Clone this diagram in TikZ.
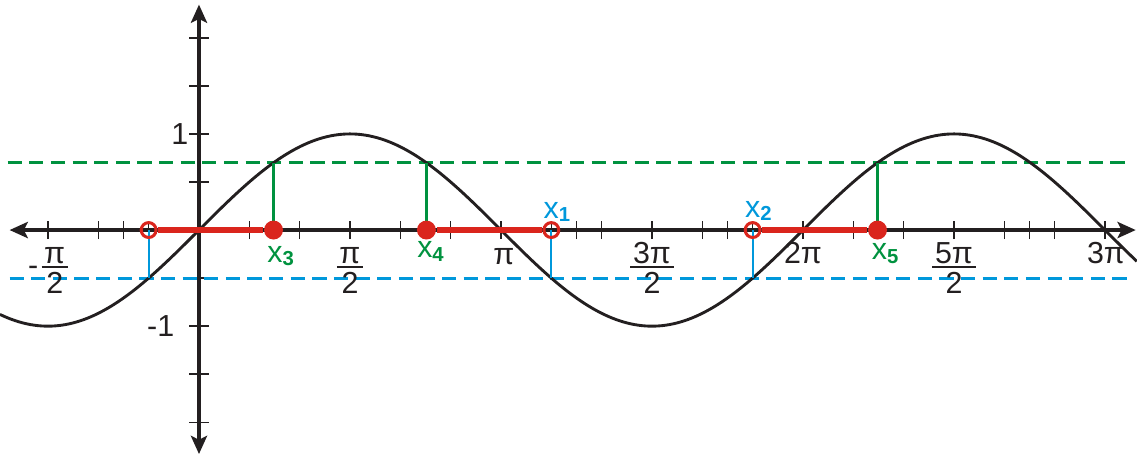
\documentclass[tikz,border=0pt]{standalone}
\usepackage{fontspec}
\setmainfont{Liberation Sans}
\usetikzlibrary{arrows.meta}
\definecolor{cred}{RGB}{218,37,29}
\definecolor{cgreen}{RGB}{0,146,63}
\definecolor{cblue}{RGB}{0,152,219}
\definecolor{cblack}{RGB}{35,31,32}
\newcommand{\piover}[1]{\vbox{\offinterlineskip\halign{\hfil\kern0.8pt##\kern0.8pt\hfil\cr #1\cr\noalign{\kern0.6pt\hrule height 0.6pt\kern1.1pt}\vrule height 6.45pt width 0pt 2\cr}}}
\tikzset{
  axisline/.style={line width=1pt, draw=cblack, {Stealth[length=5.4pt,width=4.8pt,inset=1.2pt]}-{Stealth[length=5.4pt,width=4.8pt,inset=1.2pt]}},
  tickline/.style={line width=0.45pt, draw=cblack},
  curveline/.style={line width=0.85pt, draw=cblack},
  gdash/.style={line width=0.95pt, draw=cgreen, dash pattern=on 4.2pt off 2.2pt},
  bdash/.style={line width=0.95pt, draw=cblue, dash pattern=on 4.2pt off 2.2pt},
  gvert/.style={line width=0.65pt, draw=cgreen},
  bvert/.style={line width=0.65pt, draw=cblue},
  redseg/.style={line width=1.6pt, draw=cred},
  fdot/.style={circle, fill=cred, inner sep=0pt, minimum size=5.6pt},
  odot/.style={circle, draw=cred, line width=0.9pt, inner sep=0pt, minimum size=4.4pt},
  lbl/.style={font=\fontsize{9}{10}\selectfont, inner sep=0pt, text=cblack},
  glbl/.style={font=\fontsize{9}{10}\selectfont, inner sep=0pt, text=cgreen, anchor=base},
  blbl/.style={font=\fontsize{9}{10}\selectfont, inner sep=0pt, text=cblue, anchor=base},
}
\begin{document}
\begin{tikzpicture}
\useasboundingbox (-2.070,-2.351) rectangle (9.758,2.393);
% key values
\pgfmathsetmacro{\aa}{asin(0.7)*pi/180}
% axes
\coordinate (xl) at (-1.97,0);
\coordinate (xr) at (9.745,0);
\coordinate (yb) at (0,-2.33);
\coordinate (yt) at (0,2.345);
\draw[axisline] (xl) -- (xr);
\draw[axisline] (yb) -- (yt);
\foreach \k in {-6,-4,-3,-2,2,3,4,6,8,9,10,12,14,15,16,18,20,21,22,24,26,27,28,30,32,33,34,36}
  \draw[tickline] ({\k*pi/12},-0.095) -- ({\k*pi/12},0.095);
\foreach \v in {-2,-1.5,-1,-0.5,0.5,1,1.5,2}
  \draw[tickline] (-0.1,\v) -- (0.1,\v);
% dashed levels
\coordinate (gl) at (-1.99,0.7);
\coordinate (gr) at (9.70,0.7);
\coordinate (bl) at (-1.97,-0.5);
\coordinate (br) at (9.70,-0.5);
\draw[gdash] (gl) -- (gr);
\draw[bdash] (bl) -- (br);
% curve
\draw[curveline] plot[domain=-2.07:9.758, samples=300, smooth] (\x,{sin(\x r)});
% points
\coordinate (p0) at ({-pi/6},0);
\coordinate (p1) at ({7*pi/6},0);
\coordinate (p2) at ({11*pi/6},0);
\coordinate (p3) at (\aa,0);
\coordinate (p4) at ({pi-\aa},0);
\coordinate (p5) at ({2*pi+\aa},0);
\coordinate (c0) at ({-pi/6},-0.5);
\coordinate (c1) at ({7*pi/6},-0.5);
\coordinate (c2) at ({11*pi/6},-0.5);
\coordinate (c3) at (\aa,0.7);
\coordinate (c4) at ({pi-\aa},0.7);
\coordinate (c5) at ({2*pi+\aa},0.7);
\draw[bvert] (p0) -- (c0);
\draw[bvert] (p1) -- (c1);
\draw[bvert] (p2) -- (c2);
\draw[gvert] (p3) -- (c3);
\draw[gvert] (p4) -- (c4);
\draw[gvert] (p5) -- (c5);
\node[odot] (o0) at (p0) {};
\node[odot] (o1) at (p1) {};
\node[odot] (o2) at (p2) {};
\node[fdot] (d3) at (p3) {};
\node[fdot] (d4) at (p4) {};
\node[fdot] (d5) at (p5) {};
\draw[redseg] (o0) -- (d3);
\draw[redseg] (d4) -- (o1);
\draw[redseg] (o2) -- (d5);
% point labels
\node[blbl] (x1) at ({7*pi/6},0.125) {x\rlap{\textsubscript{\textbf{1}}}};
\node[blbl] (x2) at ({11*pi/6},0.135) {x\rlap{\textsubscript{\textbf{2}}}};
\node[glbl] (x3) at (0.79,-0.333) {x\rlap{\textsubscript{\textbf{3}}}};
\node[glbl] (x4) at (2.35,-0.29) {x\rlap{\textsubscript{\textbf{4}}}};
\node[glbl] (x5) at (7.08,-0.31) {x\rlap{\textsubscript{\textbf{5}}}};
% axis labels
\node[lbl, anchor=east] (one) at (-0.105,1) {1};
\node[lbl, anchor=east] (mone) at (-0.25,-1) {-1};
\node[lbl, anchor=base] (mpi2) at ({-pi/2},-0.656) {\raisebox{5.3pt}{-}\kern1pt\piover{π}};
\node[lbl, anchor=base] (pi2) at ({pi/2},-0.656) {\piover{π}};
\node[lbl, anchor=base] (pi1) at ({pi+0.03},-0.36) {π};
\node[lbl, anchor=base] (tpi2) at ({3*pi/2},-0.656) {\piover{3π}};
\node[lbl, anchor=base] (tpi) at ({2*pi},-0.35) {2π};
\node[lbl, anchor=base] (fpi2) at ({5*pi/2},-0.656) {\piover{5π}};
\node[lbl, anchor=base] (thpi) at ({3*pi+0.01},-0.35) {3π};
\end{tikzpicture}
\end{document}
